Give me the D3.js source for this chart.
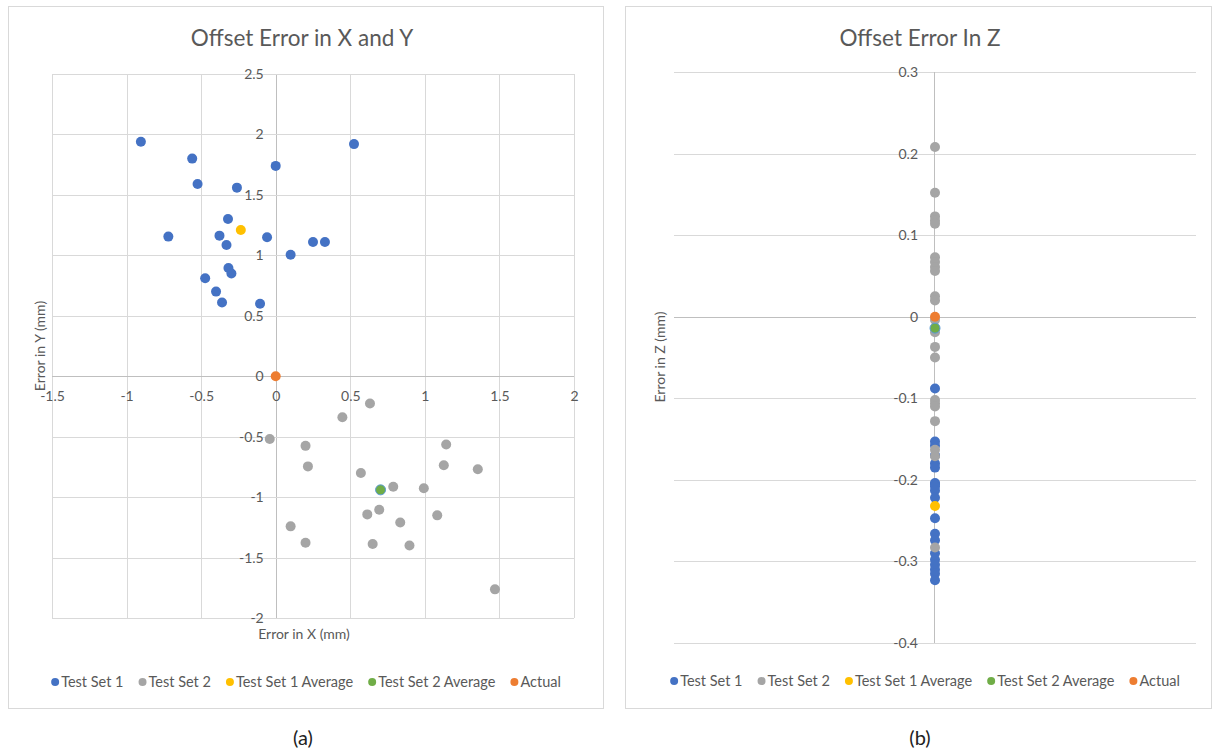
<!DOCTYPE html>
<html>
<head>
<meta charset="utf-8">
<script src="https://cdn.jsdelivr.net/npm/d3@7"></script>
<style>
  body { margin: 0; background: #fff; }
  text { font-family: Lato, "Open Sans", sans-serif; fill: #595959; }
</style>
</head>
<body>
<script>

// ===== DATA =====

// Chart (a): offset error in X and Y (mm)
const set1X = [-0.904, -0.56, -0.524, -0.26, 0.0, 0.525, -0.32, -0.72, -0.377, -0.33,
               -0.058, 0.10, 0.25, 0.33, -0.317, -0.297, -0.473, -0.40, -0.36, -0.105];
const set1Y = [1.94, 1.80, 1.59, 1.56, 1.74, 1.92, 1.30, 1.155, 1.163, 1.085,
               1.15, 1.005, 1.11, 1.11, 0.895, 0.849, 0.81, 0.70, 0.61, 0.60];
const set2X = [0.632, 0.447, -0.04, 0.20, 0.216, 0.571, 0.788, 0.993, 1.143, 1.127,
               1.355, 0.694, 0.614, 0.835, 1.083, 0.10, 0.20, 0.65, 0.897, 1.47];
const set2Y = [-0.226, -0.339, -0.52, -0.576, -0.746, -0.80, -0.915, -0.926, -0.565, -0.736,
               -0.77, -1.105, -1.143, -1.21, -1.151, -1.242, -1.378, -1.388, -1.40, -1.763];
const avg1XY = [-0.234, 1.21];
const avg2XY = [0.703, -0.94];
const actualXY = [0, 0];

const xTicks = [-1.5, -1, -0.5, 0, 0.5, 1, 1.5, 2];
const yTicks = [-2, -1.5, -1, -0.5, 0, 0.5, 1, 1.5, 2, 2.5];

// Chart (b): offset error in Z (mm)
const set1Z = [-0.088, -0.153, -0.158, -0.170, -0.180, -0.185, -0.204, -0.205, -0.208, -0.213,
               -0.222, -0.247, -0.266, -0.274, -0.290, -0.298, -0.304, -0.310, -0.315, -0.323];
const set2Z = [0.208, 0.152, 0.123, 0.118, 0.114, 0.073, 0.067, 0.061, 0.056, 0.025, 0.020,
               -0.004, -0.019, -0.037, -0.050, -0.102, -0.106, -0.110, -0.128, -0.163, -0.171, -0.283];
const avg1Z = -0.232;
const avg2Z = -0.014;
const actualZ = 0;
const zX = 0; // every Z point sits on the same x

const zTicks = [0.3, 0.2, 0.1, 0, -0.1, -0.2, -0.3, -0.4];

// Series names and colours
const seriesNames = ["Test Set 1", "Test Set 2", "Test Set 1 Average", "Test Set 2 Average", "Actual"];
const seriesColors = ["#4472C4", "#A5A5A5", "#FFC000", "#70AD47", "#ED7D31"];

// ===== DRAWING =====

const gridColor = "#D9D9D9";
const axisColor = "#BFBFBF";
const dotR = 5;
const labelSize = "14px";

var svg = d3.select("body")
    .append("svg")
    .attr("width", 1216)
    .attr("height", 755);

// Draw a legend row centred on cx
function drawLegend(cx, cy) {
    var g = svg.append("g");
    var x = 0;
    seriesNames.forEach((name, i) => {
        g.append("circle")
            .attr("cx", x + 4)
            .attr("cy", cy)
            .attr("r", 4)
            .attr("fill", seriesColors[i]);
        var t = g.append("text")
            .attr("x", x + 10)
            .attr("y", cy)
            .attr("dy", ".35em")
            .style("font-size", "14.5px")
            .text(name);
        x += 10 + t.node().getComputedTextLength() + 15;
    });
    g.attr("transform", `translate(${cx - (x - 15) / 2},0)`);
}

// Style the tick labels of an axis group
function styleAxis(a) {
    a.select(".domain").remove();
    a.selectAll("text")
        .style("font-size", labelSize)
        .style("font-family", "Lato, sans-serif")
        .attr("fill", "#595959");
}

// ----- Chart (a) -----

svg.append("rect")
    .attr("x", 8.5).attr("y", 6.5)
    .attr("width", 595).attr("height", 702)
    .attr("fill", "#fff")
    .attr("stroke", gridColor);

var xA = d3.scaleLinear().domain([-1.5, 2]).range([52, 574]);
var yA = d3.scaleLinear().domain([-2, 2.5]).range([618, 74]);

// Gridlines
svg.append("g").selectAll("line")
    .data(xTicks).enter().append("line")
    .attr("x1", (d) => Math.round(xA(d)) + 0.5).attr("x2", (d) => Math.round(xA(d)) + 0.5)
    .attr("y1", yA(2.5)).attr("y2", yA(-2))
    .attr("stroke", (d) => d === 0 ? axisColor : gridColor);
svg.append("g").selectAll("line")
    .data(yTicks).enter().append("line")
    .attr("y1", (d) => Math.round(yA(d)) + 0.5).attr("y2", (d) => Math.round(yA(d)) + 0.5)
    .attr("x1", xA(-1.5)).attr("x2", xA(2))
    .attr("stroke", (d) => d === 0 ? axisColor : gridColor);

// Axes (labels only, crossing at zero)
styleAxis(svg.append("g")
    .attr("transform", `translate(${xA(0)},0)`)
    .call(d3.axisLeft(yA).tickValues(yTicks).tickSize(0).tickPadding(12).tickFormat((d) => String(d))));
styleAxis(svg.append("g")
    .attr("transform", `translate(0,${yA(0)})`)
    .call(d3.axisBottom(xA).tickValues(xTicks).tickSize(0).tickPadding(15).tickFormat((d) => String(d))));

// Titles
svg.append("text")
    .attr("x", 302).attr("y", 46)
    .attr("text-anchor", "middle")
    .style("font-size", "22.5px")
    .text("Offset Error in X and Y");
svg.append("text")
    .attr("x", 304).attr("y", 634)
    .attr("dy", ".35em")
    .attr("text-anchor", "middle")
    .style("font-size", labelSize)
    .text("Error in X (mm)");
svg.append("text")
    .attr("transform", "translate(40,346) rotate(-90)")
    .attr("dy", ".35em")
    .attr("text-anchor", "middle")
    .style("font-size", labelSize)
    .text("Error in Y (mm)");

// Points
function plotA(xs, ys, color, stroke) {
    svg.append("g").selectAll("circle")
        .data(xs.map((d, i) => [d, ys[i]]))
        .enter().append("circle")
        .attr("cx", (d) => xA(d[0]))
        .attr("cy", (d) => yA(d[1]))
        .attr("r", dotR)
        .attr("fill", color)
        .attr("stroke", stroke || "none");
}
plotA(set1X, set1Y, seriesColors[0]);
plotA(set2X, set2Y, seriesColors[1]);
plotA([avg1XY[0]], [avg1XY[1]], seriesColors[2]);
plotA([avg2XY[0]], [avg2XY[1]], seriesColors[3], "#5B9BD5");
plotA([actualXY[0]], [actualXY[1]], seriesColors[4]);

drawLegend(306, 682);

// ----- Chart (b) -----

svg.append("rect")
    .attr("x", 625.5).attr("y", 6.5)
    .attr("width", 586).attr("height", 702)
    .attr("fill", "#fff")
    .attr("stroke", gridColor);

var xB = d3.scaleLinear().domain([-1, 1]).range([674, 1196]);
var yB = d3.scaleLinear().domain([-0.4, 0.3]).range([643, 72]);

// Gridlines
svg.append("g").selectAll("line")
    .data(zTicks).enter().append("line")
    .attr("y1", (d) => Math.round(yB(d)) + 0.5).attr("y2", (d) => Math.round(yB(d)) + 0.5)
    .attr("x1", xB(-1)).attr("x2", xB(1))
    .attr("stroke", (d) => d === 0 ? axisColor : gridColor);
svg.append("line")
    .attr("x1", Math.round(xB(zX)) - 0.5).attr("x2", Math.round(xB(zX)) - 0.5)
    .attr("y1", yB(0.3)).attr("y2", yB(-0.4))
    .attr("stroke", axisColor);

styleAxis(svg.append("g")
    .attr("transform", `translate(${xB(zX)},0)`)
    .call(d3.axisLeft(yB).tickValues(zTicks).tickSize(0).tickPadding(17)
        .tickFormat((d) => d === 0 ? "0" : d.toFixed(1))));

svg.append("text")
    .attr("x", 920).attr("y", 46)
    .attr("text-anchor", "middle")
    .style("font-size", "22.5px")
    .text("Offset Error In Z");
svg.append("text")
    .attr("transform", "translate(660,357) rotate(-90)")
    .attr("dy", ".35em")
    .attr("text-anchor", "middle")
    .style("font-size", labelSize)
    .text("Error in Z (mm)");

function plotB(zs, color, stroke) {
    svg.append("g").selectAll("circle")
        .data(zs)
        .enter().append("circle")
        .attr("cx", xB(zX))
        .attr("cy", (d) => yB(d))
        .attr("r", dotR)
        .attr("fill", color)
        .attr("stroke", stroke || "none");
}
plotB(set1Z, seriesColors[0]);
plotB(set2Z, seriesColors[1]);
plotB([avg1Z], seriesColors[2]);
plotB([avg2Z], seriesColors[3], "#5B9BD5");
plotB([actualZ], seriesColors[4]);

drawLegend(925, 681);

// ----- Captions -----
[["(a)", 303], ["(b)", 920]].forEach((c) => {
    svg.append("text")
        .attr("x", c[1]).attr("y", 738)
        .attr("dy", ".35em")
        .attr("text-anchor", "middle")
        .style("font-size", "20px")
        .style("fill", "#222")
        .text(c[0]);
});

</script>
</body>
</html>
